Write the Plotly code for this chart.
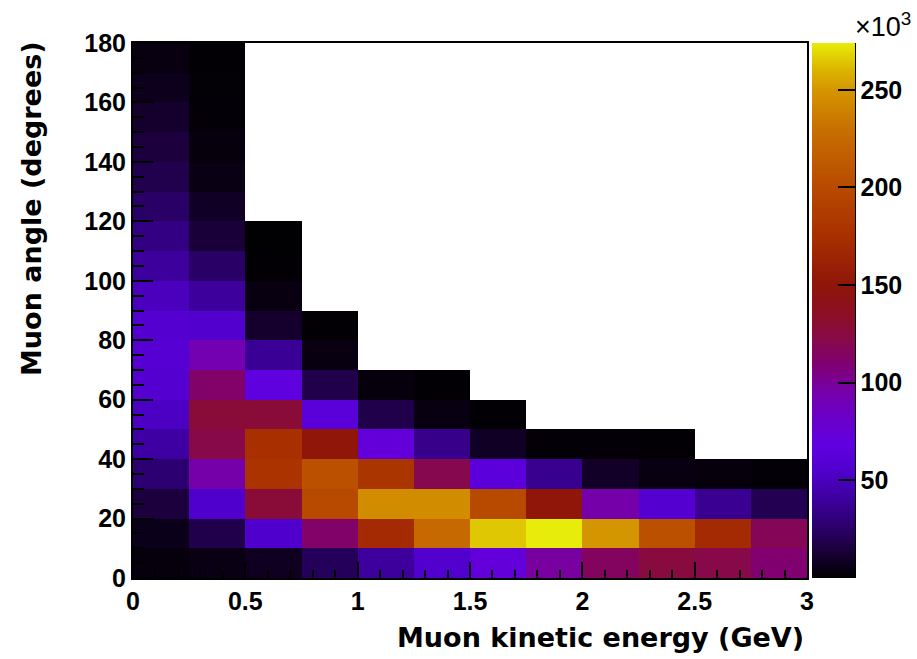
import plotly.graph_objects as go

# Bin edges
x_edges = [0, 0.25, 0.5, 0.75, 1.0, 1.25, 1.5, 1.75, 2.0, 2.25, 2.5, 2.75, 3.0]
y_edges = list(range(0, 190, 10))

# Counts in units of 10^3, one list per energy bin (from angle 0 upward); missing = empty
col_0_025 = [3, 6, 15, 28, 42, 52, 58, 60, 58, 50, 40, 33, 25, 19, 15, 11, 7, 4]
col_025_05 = [5, 18, 55, 95, 122, 128, 112, 92, 56, 40, 25, 14, 9, 5, 3, 2, 1.5, 1]
col_05_075 = [8, 55, 128, 178, 175, 128, 68, 38, 11, 4, 1, 0.5]
col_075_1 = [22, 112, 200, 205, 150, 63, 18, 4, 1]
col_1_125 = [40, 170, 245, 180, 72, 18, 3]
col_125_15 = [56, 225, 245, 120, 35, 4, 1]
col_15_175 = [72, 265, 200, 65, 9, 1]
col_175_2 = [98, 274, 150, 36, 2]
col_2_225 = [115, 250, 95, 10, 2]
col_225_25 = [125, 205, 58, 4, 1]
col_25_275 = [122, 170, 37, 3]
col_275_3 = [110, 118, 20, 2]

columns = [col_0_025, col_025_05, col_05_075, col_075_1, col_1_125, col_125_15,
           col_15_175, col_175_2, col_2_225, col_225_25, col_25_275, col_275_3]

n_y = len(y_edges) - 1
z = []
for j in range(n_y):
    row = []
    for c in columns:
        row.append(c[j] if j < len(c) else None)
    z.append(row)

cbar_ticks = [50, 100, 150, 200, 250]
z_max = 274

colorscale = [
    [0.00, "#000000"],
    [0.05, "#1a0038"],
    [0.10, "#2c0070"],
    [0.15, "#3e00a0"],
    [0.20, "#5000cc"],
    [0.25, "#6000e0"],
    [0.30, "#6a00c8"],
    [0.35, "#7600a8"],
    [0.40, "#800070"],
    [0.45, "#880a45"],
    [0.50, "#8c1020"],
    [0.55, "#901608"],
    [0.64, "#a83000"],
    [0.73, "#b84a00"],
    [0.84, "#c87000"],
    [0.91, "#d49400"],
    [0.95, "#dcb400"],
    [1.00, "#e8ec0a"],
]

FONT = "Liberation Sans, Arial, sans-serif"
TFONT = "DejaVu Sans, sans-serif"

L, R, T, B = 133, 807, 43, 578
PW, PH = R - L, B - T

fig = go.Figure(go.Heatmap(
    x=x_edges, y=y_edges, z=z,
    zmin=0, zmax=z_max,
    colorscale=colorscale,
    hoverongaps=False,
    colorbar=dict(
        x=(812 - L) / PW, xanchor="left", xpad=0,
        y=0.5, yanchor="middle", len=1.0, lenmode="fraction", ypad=0,
        thickness=43, thicknessmode="pixels",
        outlinewidth=0,
        tickvals=cbar_ticks, ticktext=[str(t) for t in cbar_ticks],
        ticks="inside", ticklen=17, tickwidth=2, tickcolor="black",
        tickfont=dict(family=FONT, size=25, color="black", weight="bold"),
    ),
))

fig.update_layout(
    width=917, height=659,
    margin=dict(l=L, r=917 - R, t=T, b=659 - B, autoexpand=False),
    paper_bgcolor="white", plot_bgcolor="white",
    showlegend=False,
    xaxis=dict(
        range=[0, 3], dtick=0.5, tick0=0,
        ticks="inside", ticklen=16, tickwidth=2, tickcolor="black",
        minor=dict(dtick=0.1, ticks="inside", ticklen=8, tickwidth=2, tickcolor="black"),
        showline=True, linecolor="black", linewidth=2, mirror=True,
        showgrid=False, zeroline=False, automargin=False,
        tickfont=dict(family=FONT, size=25, color="black", weight="bold"),
        layer="above traces",
    ),
    yaxis=dict(
        range=[0, 180], dtick=20, tick0=0,
        ticks="inside", ticklen=20, tickwidth=2, tickcolor="black",
        minor=dict(dtick=5, ticks="inside", ticklen=11, tickwidth=2, tickcolor="black"),
        showline=True, linecolor="black", linewidth=2, mirror=True,
        showgrid=False, zeroline=False, automargin=False,
        tickfont=dict(family=FONT, size=25, color="black", weight="bold"),
        layer="above traces",
    ),
    shapes=[dict(type="line", xref="paper", yref="paper",
                 x0=(855 - L) / PW, x1=(855 - L) / PW, y0=0, y1=1,
                 line=dict(color="black", width=2))],
    annotations=[
        dict(text="Muon kinetic energy (GeV)", xref="paper", yref="paper",
             x=(806 - L) / PW, y=(B - 637) / PH, xanchor="right", yanchor="middle",
             showarrow=False, font=dict(family=TFONT, size=27, color="black", weight="bold")),
        dict(text="Muon angle (degrees)", xref="paper", yref="paper", textangle=-90,
             x=(32 - L) / PW, y=(B - 209) / PH, xanchor="center", yanchor="middle",
             showarrow=False, font=dict(family=TFONT, size=27, color="black", weight="bold")),
        dict(text="×10<sup>3</sup>", xref="paper", yref="paper",
             x=(853 - L) / PW, y=(B - 44) / PH, xanchor="left", yanchor="bottom",
             showarrow=False, font=dict(family=FONT, size=27, color="black")),
    ],
)

fig.write_html("out.html", config={"displayModeBar": False},
               post_script="document.body.style.margin='0px';document.body.style.overflow='hidden';")
